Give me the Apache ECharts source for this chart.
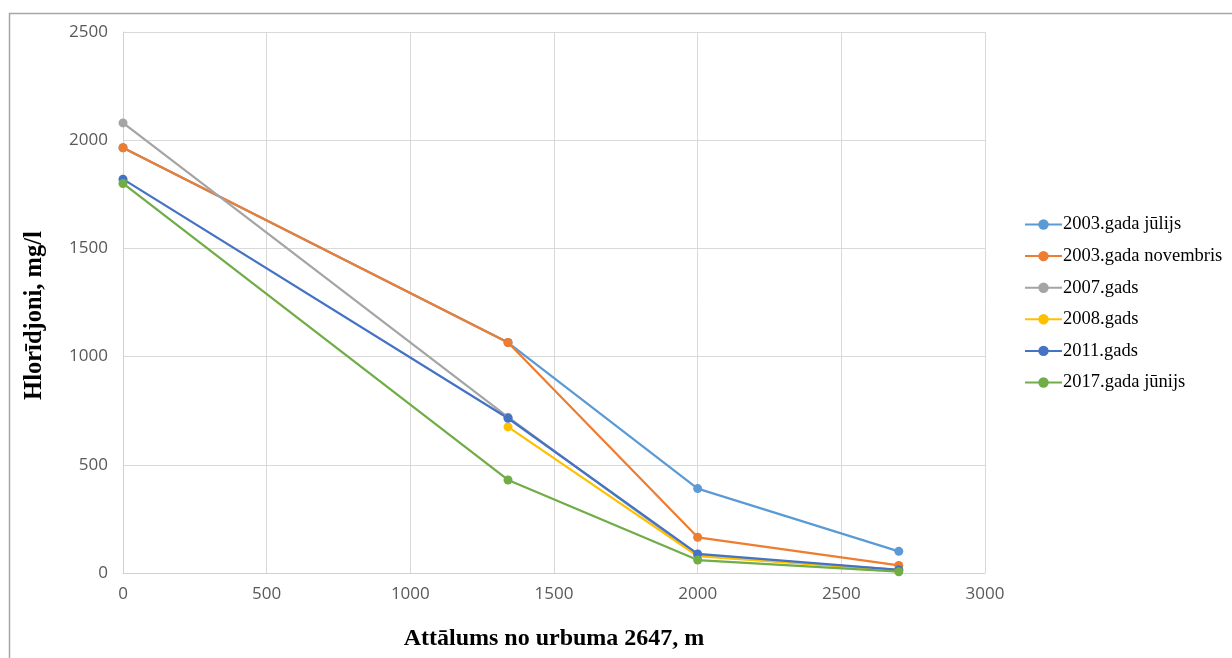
<!DOCTYPE html>
<html>
<head>
<meta charset="utf-8">
<script src="https://cdn.jsdelivr.net/npm/echarts@6/dist/echarts.min.js"></script>
<style>html,body{margin:0;padding:0;background:#fff}#c{width:1232px;height:658px}</style>
</head>
<body>
<div id="c"></div>
<script>
const distances = [0, 1340, 2000, 2700];
const seriesNames = ['2003.gada jūlijs', '2003.gada novembris', '2007.gads', '2008.gads', '2011.gads', '2017.gada jūnijs'];
const v2003jul = [1965, 1065, 390, 100];
const v2003nov = [1965, 1065, 165, 35];
const v2007 = [2080, 720, 80, 15];
const v2008 = [null, 675, 78, 12];
const v2011 = [1820, 715, 88, 15];
const v2017 = [1800, 430, 60, 6];
const colors = ['#5B9BD5', '#ED7D31', '#A5A5A5', '#FFC000', '#4472C4', '#70AD47'];
const allValues = [v2003jul, v2003nov, v2007, v2008, v2011, v2017];

const chart = echarts.init(document.getElementById('c'));
const series = seriesNames.map((n, i) => ({
  name: n,
  type: 'line',
  data: distances.map((d, j) => [d, allValues[i][j]]).filter(p => p[1] !== null),
  symbol: 'circle',
  symbolSize: 9,
  showSymbol: true,
  lineStyle: { width: 2.25, color: colors[i] },
  itemStyle: { color: colors[i] },
  emphasis: { disabled: true },
  animation: false
}));

chart.setOption({
  animation: false,
  graphic: [{
    type: 'rect', left: 7, top: 11, silent: true,
    shape: { width: 1300, height: 700 },
    style: { fill: 'none', stroke: '#a6a6a6', lineWidth: 1.5 }
  }],
  grid: { left: 123, right: 247, top: 32, bottom: 85 },
  legend: {
    orient: 'vertical',
    left: 1019, top: 210,
    itemWidth: 37, itemHeight: 13, itemGap: 12.6,
    textStyle: { fontFamily: 'Liberation Serif', fontSize: 18.5, color: '#000', padding: [0, 0, 0, -4] },
    data: seriesNames
  },
  xAxis: {
    type: 'value', min: 0, max: 3000, interval: 500,
    name: 'Attālums no urbuma 2647, m',
    nameLocation: 'middle', nameGap: 54,
    nameTextStyle: { fontFamily: 'Liberation Serif', fontWeight: 'bold', fontSize: 24, color: '#000' },
    axisLine: { show: true, lineStyle: { color: '#d0d0d0', width: 1 } },
    axisTick: { show: false },
    axisLabel: { fontFamily: 'Open Sans', fontSize: 17, color: '#595959', margin: 13, formatter: v => String(v) },
    splitLine: { show: true, lineStyle: { color: '#d9d9d9', width: 1 } }
  },
  yAxis: {
    type: 'value', min: 0, max: 2500, interval: 500,
    name: 'Hlorīdjoni, mg/l',
    nameLocation: 'middle', nameGap: 76, nameRotate: 90,
    nameTextStyle: { fontFamily: 'Liberation Serif', fontWeight: 'bold', fontSize: 24.5, color: '#000', padding: [0, 26, 0, 0] },
    axisLine: { show: true, lineStyle: { color: '#d0d0d0', width: 1 } },
    axisTick: { show: false },
    axisLabel: { fontFamily: 'Open Sans', fontSize: 17, color: '#595959', margin: 15, formatter: v => String(v) },
    splitLine: { show: true, lineStyle: { color: '#d9d9d9', width: 1 } }
  },
  series: series
});
</script>
</body>
</html>
